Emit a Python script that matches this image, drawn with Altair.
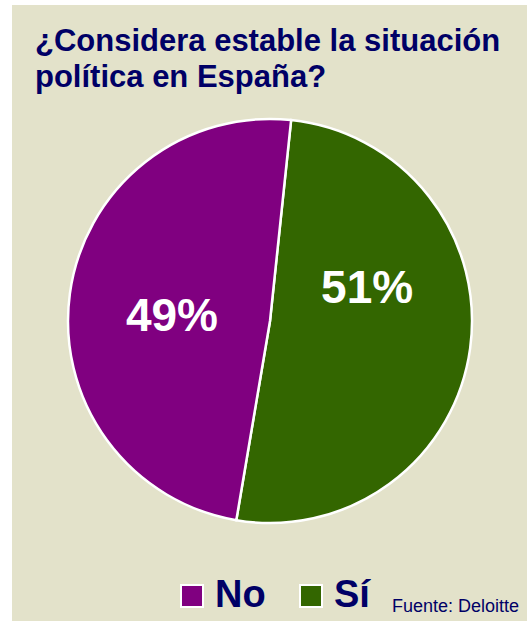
import altair as alt
import pandas as pd
import math

# ---- data ----
categorias = ["Sí", "No"]
porcentajes = [51, 49]
etiquetas = ["51%", "49%"]
colores = ["#336600", "#800080"]
titulo = ["¿Considera estable la situación", "política en España?"]
fuente = "Fuente: Deloitte"

W, H = 527, 621
CX, CY, R = 270, 321, 202
offset = math.radians(6)

df = pd.DataFrame({"cat": categorias, "val": porcentajes, "lab": etiquetas,
                   "orden": list(range(len(categorias)))})

color_scale = alt.Scale(domain=categorias, range=colores)
theta_scale = alt.Scale(range=[offset, offset + 2 * math.pi])

one = pd.DataFrame({"k": [0]})

fondo = alt.Chart(one).mark_rect(color="#E3E2CA").encode(
    x=alt.value(12), x2=alt.value(W), y=alt.value(5), y2=alt.value(H))

pie = alt.Chart(df).mark_arc(radius=R, stroke="white", strokeWidth=2.5).encode(
    theta=alt.Theta("val:Q", stack=True, scale=theta_scale),
    order=alt.Order("orden:Q"),
    x=alt.value(CX), y=alt.value(CY),
    color=alt.Color("cat:N", scale=color_scale, legend=None),
)

def etiqueta(cat, dx, dy):
    return alt.Chart(df).transform_joinaggregate(
        total="sum(val)"
    ).transform_window(
        cum="sum(val)", sort=[alt.SortField("orden")]
    ).transform_calculate(
        mid=f"{offset} + 2*PI*(datum.cum - datum.val/2)/datum.total"
    ).transform_filter(alt.datum.cat == cat).mark_text(
        radius=100, fontSize=46, fontWeight="bold",
        font="Liberation Sans", color="white",
        dx=dx, dy=dy, baseline="middle").encode(
        theta=alt.Theta("mid:Q", scale=None, stack=False),
        x=alt.value(CX), y=alt.value(CY), text="lab:N"
    )

lab_si = etiqueta("Sí", -2, -46)
lab_no = etiqueta("No", 1, 10)

tit = alt.Chart(one).mark_text(
    align="left", baseline="alphabetic", fontSize=31, fontWeight="bold",
    font="Liberation Sans", color="#000066", lineHeight=36
).encode(x=alt.value(35), y=alt.value(51), text=alt.value(titulo))

leg_df = pd.DataFrame({"cat": ["No", "Sí"]})

def cuadro(cat, xpos):
    return alt.Chart(leg_df).transform_filter(alt.datum.cat == cat).mark_square(
        size=484, stroke="white", strokeWidth=2, opacity=1).encode(
        x=alt.value(xpos), y=alt.value(596),
        color=alt.Color("cat:N", scale=color_scale, legend=None),
    )

def texto_leg(cat, xpos):
    return alt.Chart(leg_df).transform_filter(alt.datum.cat == cat).mark_text(
        align="left", baseline="alphabetic", fontSize=38, fontWeight="bold",
        font="Liberation Sans", color="#000066"
    ).encode(x=alt.value(xpos), y=alt.value(607), text="cat:N")

src = alt.Chart(one).mark_text(
    align="left", baseline="alphabetic", fontSize=18,
    font="Liberation Sans", color="#000066"
).encode(x=alt.value(392), y=alt.value(612), text=alt.value(fuente))

chart = alt.layer(
    fondo, pie, lab_si, lab_no, tit,
    cuadro("No", 192), texto_leg("No", 215),
    cuadro("Sí", 311), texto_leg("Sí", 334),
    src,
).properties(
    width=W, height=H, padding=0, autosize=alt.AutoSizeParams(type="none"),
    background="white",
).configure_view(stroke=None)

chart.save("out.html", embed_options={"renderer": "svg", "actions": False})
